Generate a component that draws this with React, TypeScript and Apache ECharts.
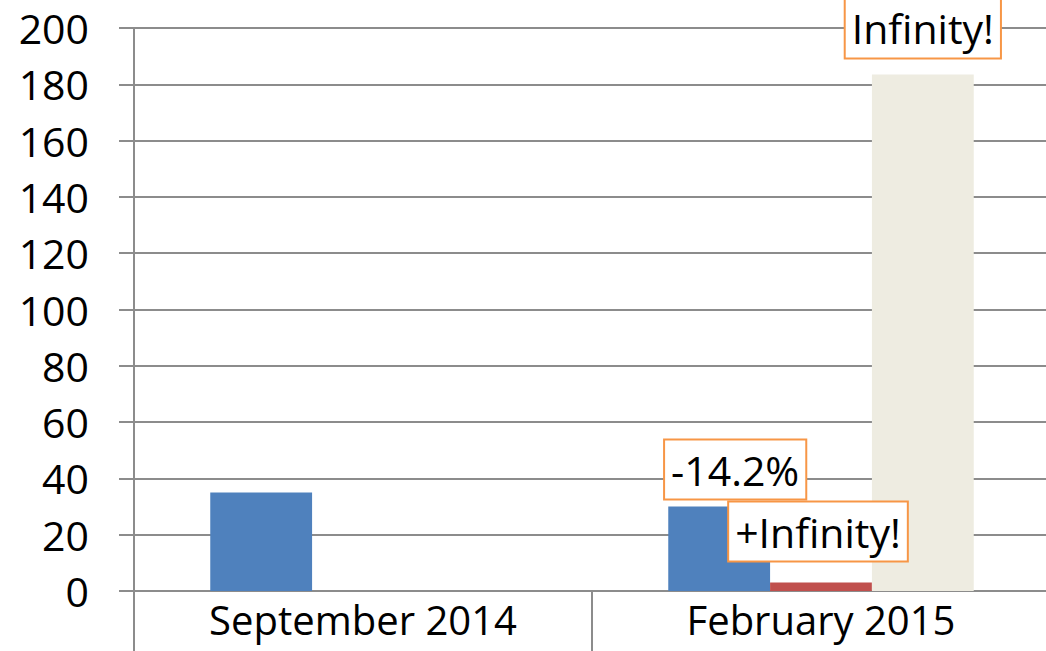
import React, { useEffect, useRef } from "react";
import * as echarts from "echarts";

const categories = ["September 2014", "February 2015"];
const blueValues = [35, 30];
const redValues = [0, 3];
const beigeValues = [0, 183.5];
const blueLabels = ["", "-14.2%"];
const redLabels = ["", "+Infinity!"];
const beigeLabels = ["", "Infinity!"];
const yTicks = { min: 0, max: 200, interval: 20 };

const FONT = "Open Sans";
const GRAY = "#8c8c8c";

function labelStyle(text: string, distance: number, dx: number) {
  if (!text) return { show: false };
  return {
    show: true,
    position: "top",
    distance,
    offset: [dx, 0],
    formatter: () => text,
    fontFamily: FONT,
    fontSize: 41,
    lineHeight: 48,
    color: "#000",
    backgroundColor: "#fff",
    borderColor: "#F79646",
    borderWidth: 2,
    padding: [5, 6, 5, 6],
  };
}

function buildData(values: number[], labels: string[], distance: number, dx: number) {
  return values.map((v, i) => ({ value: v, label: labelStyle(labels[i], distance, dx) }));
}

export default function App() {
  const ref = useRef<HTMLDivElement>(null);
  useEffect(() => {
    if (!ref.current) return;
    const chart = echarts.init(ref.current, null, { renderer: "svg" });
    chart.setOption({
      animation: false,
      grid: {
        left: 134,
        top: 28,
        width: 916,
        bottom: 60,
        containLabel: false,
        outerBoundsMode: "none",
      },
      xAxis: {
        type: "category",
        data: categories,
        boundaryGap: true,
        axisLine: { show: true, lineStyle: { color: GRAY, width: 2 } },
        axisTick: { show: true, length: 70, lineStyle: { color: GRAY, width: 2 } },
        axisLabel: {
          fontFamily: FONT,
          fontSize: 40,
          lineHeight: 40,
          color: "#000",
          margin: 8,
        },
      },
      yAxis: {
        type: "value",
        min: yTicks.min,
        max: yTicks.max,
        interval: yTicks.interval,
        axisLine: { show: true, lineStyle: { color: GRAY, width: 2 } },
        axisTick: { show: true, length: 15, lineStyle: { color: GRAY, width: 2 } },
        splitLine: { show: true, lineStyle: { color: GRAY, width: 2 } },
        axisLabel: { fontFamily: FONT, fontSize: 41, color: "#000", margin: 45 },
      },
      series: [
        {
          type: "bar",
          data: buildData(blueValues, blueLabels, 8, 16),
          itemStyle: { color: "#4F81BD" },
          barGap: "0%",
          barCategoryGap: "33.3%",
        },
        {
          type: "bar",
          data: buildData(redValues, redLabels, 22, -3),
          itemStyle: { color: "#C0504D" },
        },
        {
          type: "bar",
          data: buildData(beigeValues, beigeLabels, 17, 0),
          itemStyle: { color: "#EEECE1" },
        },
      ],
    });
    return () => chart.dispose();
  }, []);
  return (
    <div
      ref={ref}
      style={{ position: "absolute", left: 0, top: 0, width: 1046, height: 651 }}
    />
  );
}
